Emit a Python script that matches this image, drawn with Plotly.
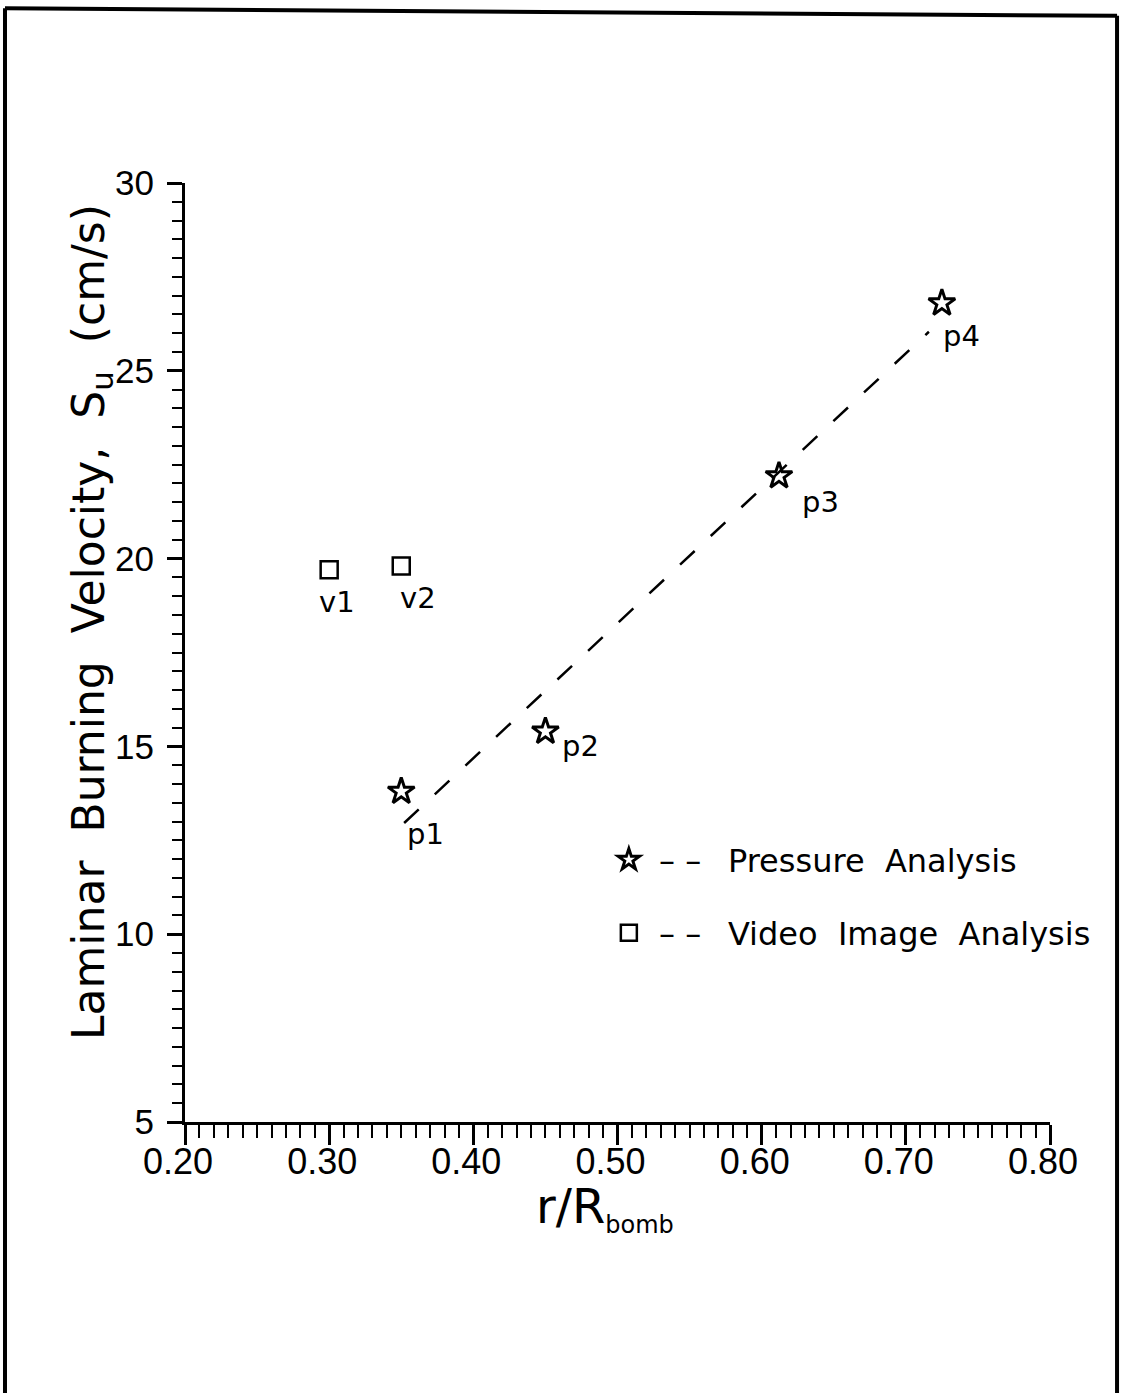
import plotly.graph_objects as go

# ---- data ----
p_labels = ["p1", "p2", "p3", "p4"]
p_x = [0.35, 0.45, 0.612, 0.725]
p_y = [13.8, 15.4, 22.2, 26.8]

v_labels = ["v1", "v2"]
v_x = [0.30, 0.35]
v_y = [19.7, 19.8]

fit_x = [0.352, 0.716]
fit_y = [12.96, 26.04]

x_ticks = [0.20, 0.30, 0.40, 0.50, 0.60, 0.70, 0.80]
y_ticks = [5, 10, 15, 20, 25, 30]

# ---- styling ----
TXT = "DejaVu Sans"
NUM = "Liberation Sans"
p_offsets = [(24, -43), (35, -15), (42, -26), (20, -33)]
v_offsets = [(8, -32), (17, -32)]
GAP = "&nbsp;&nbsp;\u2009"

fig = go.Figure()

fig.add_trace(go.Scatter(
    x=fit_x, y=fit_y, mode="lines",
    line=dict(color="black", width=2.5, dash="20px,22px"),
    showlegend=False, hoverinfo="skip"))

fig.add_trace(go.Scatter(
    x=p_x, y=p_y, mode="markers",
    marker=dict(symbol="star-open", size=20, color="black",
                line=dict(color="black", width=3)),
    name="&nbsp;–&nbsp;–" + GAP + "Pressure&nbsp;&nbsp;Analysis",
    legend="legend"))

fig.add_trace(go.Scatter(
    x=v_x, y=v_y, mode="markers",
    marker=dict(symbol="square-open", size=17, color="black",
                line=dict(color="black", width=2.5)),
    name="&nbsp;–&nbsp;–" + GAP + "Video&nbsp;&nbsp;Image&nbsp;&nbsp;Analysis",
    legend="legend2"))

for lab, xx, yy, (dx, dy) in zip(p_labels, p_x, p_y, p_offsets):
    fig.add_annotation(x=xx, y=yy, text=lab, showarrow=False,
                       xshift=dx, yshift=dy,
                       font=dict(family=TXT, size=29, color="black"))
for lab, xx, yy, (dx, dy) in zip(v_labels, v_x, v_y, v_offsets):
    fig.add_annotation(x=xx, y=yy, text=lab, showarrow=False,
                       xshift=dx, yshift=dy,
                       font=dict(family=TXT, size=29, color="black"))

# axis titles
fig.add_annotation(xref="paper", yref="paper", x=0.4855, y=-0.092,
                   xanchor="center", yanchor="middle", showarrow=False,
                   text="r/R<sub><span style='font-size:24px'>bomb</span></sub>",
                   font=dict(family=TXT, size=48, color="black"))
fig.add_annotation(xref="paper", yref="paper", x=-0.1075, y=0.5325,
                   xanchor="center", yanchor="middle", showarrow=False,
                   textangle=-90,
                   text="Laminar&nbsp;&nbsp;Burning&nbsp;&nbsp;Velocity,&nbsp;&nbsp;S<sub>u</sub>&nbsp;&nbsp;(cm/s)",
                   font=dict(family=TXT, size=44, color="black"))

# page frame (left, top, right edges)
frame = dict(type="line", xref="paper", yref="paper",
             line=dict(color="black", width=4))
fig.add_shape(**frame, x0=-0.2081, x1=-0.2081, y0=1.186, y1=-0.30)
fig.add_shape(**frame, x0=-0.2081, x1=1.0775, y0=1.186, y1=1.178)
fig.add_shape(**frame, x0=1.0775, x1=1.0775, y0=1.178, y1=-0.30)

fig.update_layout(
    width=1122, height=1393, autosize=False,
    margin=dict(l=185, r=72, t=183, b=271),
    paper_bgcolor="white", plot_bgcolor="white",
    legend=dict(x=0.49, y=0.279, xanchor="left", yanchor="middle",
                font=dict(family=TXT, size=32, color="black"),
                bgcolor="rgba(0,0,0,0)"),
    legend2=dict(x=0.49, y=0.2013, xanchor="left", yanchor="middle",
                 font=dict(family=TXT, size=32, color="black"),
                 bgcolor="rgba(0,0,0,0)"),
    xaxis=dict(
        range=[0.2, 0.8], tickvals=x_ticks, tickformat=".2f",
        ticks="outside", ticklen=20, tickwidth=3, tickcolor="black",
        showline=True, linewidth=3, linecolor="black",
        showgrid=False, zeroline=False,
        ticklabelstandoff=-14, ticklabelshift=-7,
        minor=dict(dtick=0.01, tick0=0.2, ticks="outside", ticklen=13,
                   tickwidth=2, tickcolor="black", showgrid=False),
        tickfont=dict(family=NUM, size=36, color="black"),
    ),
    yaxis=dict(
        range=[5, 30], tickvals=y_ticks,
        ticks="outside", ticklen=15, tickwidth=3, tickcolor="black",
        showline=True, linewidth=3, linecolor="black",
        showgrid=False, zeroline=False,
        ticklabelstandoff=6,
        minor=dict(dtick=0.5, tick0=5, ticks="outside", ticklen=10,
                   tickwidth=2, tickcolor="black", showgrid=False),
        tickfont=dict(family=NUM, size=35, color="black"),
    ),
)

fig.write_html("out.html")
